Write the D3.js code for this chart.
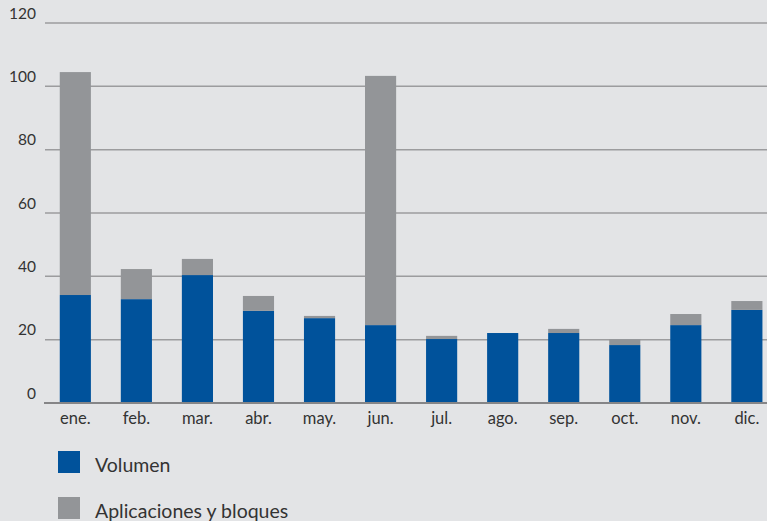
<!DOCTYPE html>
<html><head><meta charset="utf-8">
<script src="https://cdn.jsdelivr.net/npm/d3@7"></script>
<style>body{margin:0;background:#e3e4e6;} svg{display:block;}</style>
</head><body>
<svg id="c" width="767" height="521"></svg>
<script>
const months = ["ene.","feb.","mar.","abr.","may.","jun.","jul.","ago.","sep.","oct.","nov.","dic."];
const volumen = [34.1, 32.8, 40.4, 29.1, 26.8, 24.6, 20.2, 22.1, 22.1, 18.3, 24.6, 29.4];
const aplicaciones = [70.4, 9.5, 5.1, 4.7, 0.7, 78.7, 1.0, 0, 1.3, 1.8, 3.5, 2.8];
const yTicks = [0, 20, 40, 60, 80, 100, 120];
const seriesNames = ["Volumen", "Aplicaciones y bloques"];
const colors = ["#00529b", "#939598"];

const svg = d3.select("#c");
const font = "Lato, 'Open Sans', sans-serif";
svg.append("rect").attr("width",767).attr("height",521).attr("fill","#e3e4e6");

const x = d3.scaleBand().domain(months).range([44.5, 777.7]).paddingInner(0.49).paddingOuter(0.25);
const y = d3.scaleLinear().domain([0,120]).range([403, 23]);

// gridlines
svg.append("g").selectAll("line").data(yTicks.filter(d=>d>0)).join("line")
  .attr("x1",45).attr("x2",767).attr("y1",d=>y(d)).attr("y2",d=>y(d))
  .attr("stroke","#9c9c9e").attr("stroke-width",1.5);

// y tick labels
svg.append("g").selectAll("text").data(yTicks).join("text")
  .attr("x",36).attr("y",d=>y(d)-4.5).attr("text-anchor","end")
  .attr("font-family",font).attr("font-size",15.5).attr("fill","#333")
  .text(d=>d);

const data = months.map((m,i)=>({m, v:volumen[i], a:aplicaciones[i]}));
const stack = d3.stack().keys(["v","a"])(data);
svg.append("g").selectAll("g").data(stack).join("g")
  .attr("fill",(d,i)=>colors[i])
  .selectAll("rect").data(d=>d).join("rect")
  .attr("x",d=>x(d.data.m)).attr("width",x.bandwidth())
  .attr("y",d=>y(d[1])).attr("height",d=>Math.max(0,y(d[0])-y(d[1])));

// zero axis line
svg.append("line").attr("x1",44).attr("x2",767).attr("y1",y(0)).attr("y2",y(0))
  .attr("stroke","#858587").attr("stroke-width",2);

// x labels
svg.append("g").selectAll("text").data(months).join("text")
  .attr("x",d=>x(d)+x.bandwidth()/2).attr("y",424).attr("text-anchor","middle")
  .attr("font-family",font).attr("font-size",16.5).attr("fill","#333")
  .text(d=>d);

// legend
const lg = svg.append("g").selectAll("g").data(seriesNames).join("g")
  .attr("transform",(d,i)=>`translate(58,${451+i*46})`);
lg.append("rect").attr("width",22).attr("height",22).attr("fill",(d,i)=>colors[i]);
lg.append("text").attr("x",37).attr("y",21).attr("font-family",font).attr("font-size",19.5)
  .attr("fill","#333").text(d=>d);
</script>
</body></html>
